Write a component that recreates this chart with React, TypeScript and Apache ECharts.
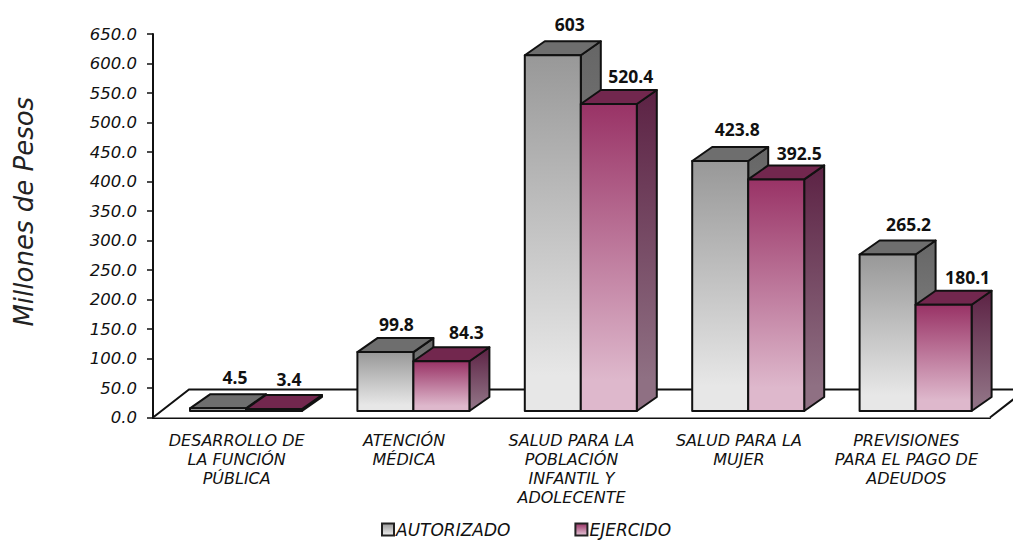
import React, { useEffect, useRef } from "react";
import * as echarts from "echarts";

const categories = [
  "DESARROLLO DE\nLA FUNCIÓN\nPÚBLICA",
  "ATENCIÓN\nMÉDICA",
  "SALUD PARA LA\nPOBLACIÓN\nINFANTIL Y\nADOLECENTE",
  "SALUD PARA LA\nMUJER",
  "PREVISIONES\nPARA EL PAGO DE\nADEUDOS",
];
const autorizado = [4.5, 99.8, 603, 423.8, 265.2];
const ejercido = [3.4, 84.3, 520.4, 392.5, 180.1];
const FONT = '"Noto Sans", "Open Sans", sans-serif';
const ITALIC = '"DejaVu Sans", Verdana, sans-serif';

const grad = (a: string, b: string) => ({
  type: "linear", x: 0, y: 0, x2: 0, y2: 1,
  colorStops: [{ offset: 0, color: a }, { offset: 0.9, color: b }, { offset: 1, color: b }],
});

const DX = 20, DY = 14, LIFT = 6.5, BAR = 56, START = 37;

function barSeries(name: string, values: number[], slot: number, cols: any, labelDx: number[], labelDy: number[]) {
  return {
    name,
    type: "custom",
    clip: false,
    itemStyle: { color: grad(cols.top, cols.bottom), borderColor: "#222", borderWidth: 2 },
    encode: { x: 0, y: 1 },
    data: values.map((v, i) => [i, v]),
    renderItem: (_p: any, api: any) => {
      const i = api.value(0), v = api.value(1);
      const band = api.size([1, 0])[0];
      const cx = api.coord([i, 0])[0];
      const x0 = cx - band / 2 + START + slot * BAR;
      const x1 = x0 + BAR;
      const yb = api.coord([i, 0])[1] - LIFT;
      const yt = api.coord([i, v])[1] - LIFT;
      const line = { stroke: "#111", lineWidth: 2, lineJoin: "round" };
      return {
        type: "group",
        children: [
          { type: "polygon", shape: { points: [[x1, yt], [x1 + DX, yt - DY], [x1 + DX, yb - DY], [x1, yb]] },
            style: { fill: grad(cols.sideTop, cols.sideBottom), ...line } },
          { type: "polygon", shape: { points: [[x0, yt], [x0 + DX, yt - DY], [x1 + DX, yt - DY], [x1, yt]] },
            style: { fill: cols.cap, ...line } },
          { type: "rect", shape: { x: x0, y: yt, width: BAR, height: yb - yt },
            style: { fill: grad(cols.top, cols.bottom), ...line } },
          { type: "text", x: x0 + labelDx[i], y: yt - DY + labelDy[i] - 1,
            style: { text: String(v), fill: "#111", font: `bold 17.5px ${FONT}`, align: "center", verticalAlign: "middle" } },
        ],
      };
    },
  };
}

export default function App() {
  const ref = useRef<HTMLDivElement>(null);
  useEffect(() => {
    const chart = echarts.init(ref.current!, undefined, { renderer: "svg" });
    chart.setOption({
      animation: false,
      backgroundColor: "#fff",
      grid: { left: 153, top: 34, width: 837, height: 383.5, outerBoundsMode: "none" },
      legend: {
        data: ["AUTORIZADO", "EJERCIDO"],
        left: 381, top: 521, padding: 0, itemWidth: 12, itemHeight: 12, itemGap: 64,
        icon: "rect",
        textStyle: { fontFamily: ITALIC, fontStyle: "italic", fontSize: 17, color: "#111", padding: [0, 0, 0, -3] },
      },
      xAxis: {
        type: "category",
        data: categories,
        axisLine: { lineStyle: { color: "#111", width: 2 } },
        axisTick: { length: 6, lineStyle: { color: "#111", width: 1.5 } },
        axisLabel: {
          interval: 0, margin: 13, lineHeight: 19,
          fontFamily: ITALIC, fontStyle: "italic", fontSize: 16, color: "#111",
        },
      },
      yAxis: {
        type: "value", min: 0, max: 650, interval: 50,
        name: "Millones de Pesos", nameLocation: "middle", nameRotate: 90, nameGap: 116,
        nameTextStyle: { fontFamily: ITALIC, fontStyle: "italic", fontSize: 26, color: "#222", padding: [0, 0, 0, 28] },
        splitLine: { show: false },
        axisLine: { show: true, lineStyle: { color: "#111", width: 2 } },
        axisTick: { show: true, length: 6, lineStyle: { color: "#111", width: 1.5 } },
        axisLabel: {
          margin: 16, formatter: (v: number) => v.toFixed(1),
          fontFamily: ITALIC, fontStyle: "italic", fontSize: 16.5, color: "#111",
        },
      },
      series: [
        {
          type: "custom", silent: true, clip: false, z: 1,
          data: [[0, 0]], encode: { x: 0, y: 1 },
          renderItem: (p: any) => {
            const { x, y, width } = p.coordSys;
            const left = x, bottom = y + p.coordSys.height, right = x + width;
            return {
              type: "polyline",
              shape: { points: [[left, bottom], [left + 36, bottom - 28], [right + 36, bottom - 28], [right, bottom]] },
              style: { fill: "#fff", stroke: "#111", lineWidth: 2 },
            };
          },
        },
        { ...barSeries("AUTORIZADO", autorizado, 0, { top: "#989898", bottom: "#e7e7e7", cap: "#6e6e6e", sideTop: "#666666", sideBottom: "#8c8c8c" }, [45, 39, 45, 45, 49], [-16, -13, -16, -17, -16]), z: 2 },
        { ...barSeries("EJERCIDO", ejercido, 1, { top: "#993366", bottom: "#deb8cc", cap: "#72274e", sideTop: "#5c2244", sideBottom: "#8f7083" }, [43, 53, 50, 51, 52], [-15, -14, -13, -11, -13]), z: 3 },
      ],
    });
    return () => chart.dispose();
  }, []);
  return <div ref={ref} style={{ position: "absolute", left: 0, top: 0, width: 1013, height: 540 }} />;
}
